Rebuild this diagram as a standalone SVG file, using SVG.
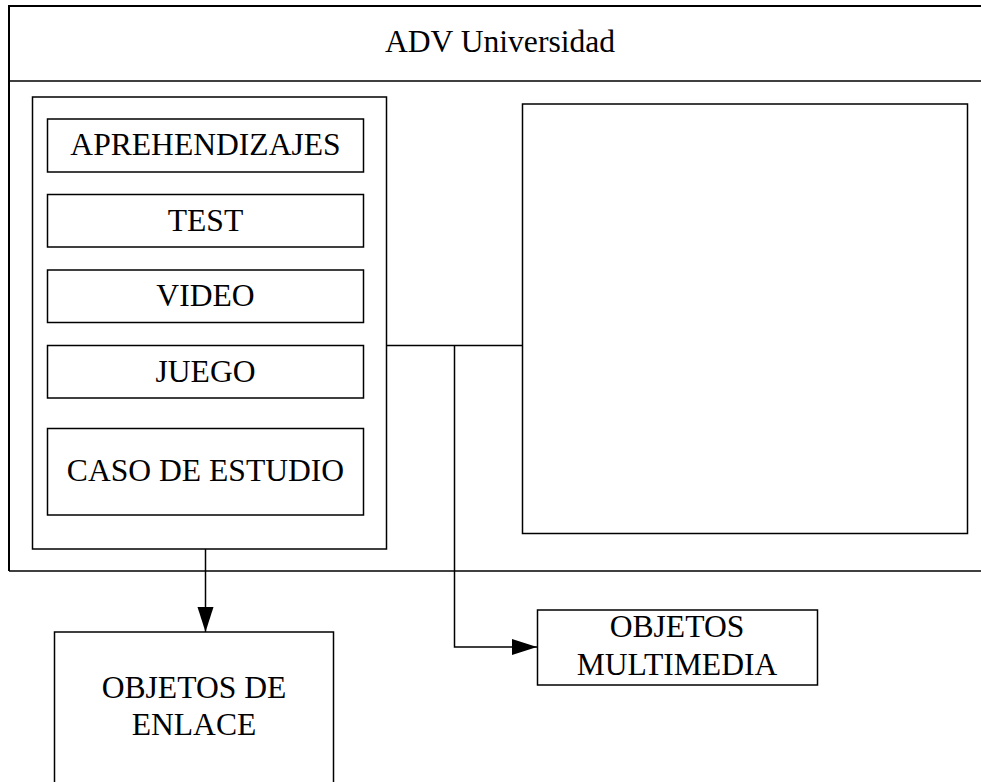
<svg xmlns="http://www.w3.org/2000/svg" width="981" height="782" viewBox="0 0 981 782">
<style>
.box{fill:#fff;stroke:#000;stroke-width:1.5}
.ln{fill:none;stroke:#000;stroke-width:1.5}
text{font-family:"Liberation Serif","Times New Roman",serif;font-size:31.6px;fill:#000;text-anchor:middle}
</style>
<defs>
<marker id="ah" markerUnits="userSpaceOnUse" markerWidth="26" markerHeight="18" refX="25" refY="8" orient="auto">
<path d="M0,0 L25,8 L0,16 Z" fill="#000"/>
</marker>
</defs>
<g id="frame">
<path class="ln" d="M9,571 V6 H981" style="stroke-width:2"/>
<path class="ln" d="M9,81 H981"/>
<path class="ln" d="M9,571 H981"/>
<text x="500" y="52">ADV Universidad</text>
</g>
<g id="container">
<rect class="box" x="32.5" y="97" width="354" height="452"/>
</g>
<g id="aprehendizajes">
<rect class="box" x="47.5" y="119" width="316" height="53"/>
<text x="205.5" y="155">APREHENDIZAJES</text>
</g>
<g id="test">
<rect class="box" x="47.5" y="194.5" width="316" height="52.5"/>
<text x="205.5" y="231">TEST</text>
</g>
<g id="video">
<rect class="box" x="47.5" y="270" width="316" height="52.5"/>
<text x="205.5" y="306">VIDEO</text>
</g>
<g id="juego">
<rect class="box" x="47.5" y="345.5" width="316" height="52.5"/>
<text x="205.5" y="381.5">JUEGO</text>
</g>
<g id="caso">
<rect class="box" x="47.5" y="428.5" width="316" height="86.5"/>
<text x="205.5" y="481">CASO DE ESTUDIO</text>
</g>
<g id="panel">
<rect class="box" x="522.5" y="104" width="445" height="429.5"/>
</g>
<g id="connectors">
<path class="ln" d="M386.5,345.5 H522.5"/>
<path class="ln" d="M454.5,345.5 V647 H537" marker-end="url(#ah)"/>
<path class="ln" d="M205.5,549 V632" marker-end="url(#ah)"/>
</g>
<g id="multimedia">
<rect class="box" x="537.5" y="610" width="280" height="75"/>
<text x="677" y="637">OBJETOS</text>
<text x="677" y="675">MULTIMEDIA</text>
</g>
<g id="enlace">
<rect class="box" x="54.5" y="632" width="279" height="170"/>
<text x="194" y="698">OBJETOS DE</text>
<text x="194" y="735">ENLACE</text>
</g>
</svg>
